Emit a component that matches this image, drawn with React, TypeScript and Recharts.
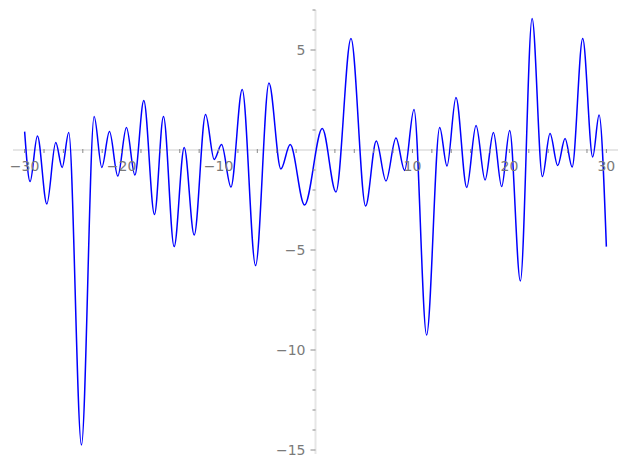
import React from "react";
import { LineChart, Line, XAxis, YAxis, ReferenceLine, ReferenceDot } from "recharts";

// local extrema of the curve
const xValues = [
  -30, -29.44, -28.68, -27.71, -26.79, -26.13, -25.45, -24.14, -22.83, -22.04,
  -21.25, -20.39, -19.5, -18.63, -17.71, -16.61, -15.68, -14.58, -13.54, -12.51,
  -11.34, -10.45, -9.69, -8.72, -7.56, -6.18, -4.8, -3.57, -2.61, -1.13,
  0.7, 2.11, 3.66, 5.17, 6.27, 7.27, 8.3, 9.19, 10.16, 11.46,
  12.81, 13.56, 14.49, 15.6, 16.56, 17.49, 18.35, 19.2, 20.03, 21.13,
  22.34, 23.4, 24.19, 24.98, 25.74, 26.47, 27.56, 28.59, 29.25, 30,
];
const yValues = [
  0.92, -1.58, 0.7, -2.7, 0.37, -0.87, 0.87, -14.75, 1.67, -0.87,
  0.92, -1.3, 1.12, -1.25, 2.47, -3.22, 1.67, -4.83, 0.13, -4.25,
  1.78, -0.47, 0.27, -1.85, 3.02, -5.78, 3.35, -0.95, 0.27, -2.75,
  1.07, -2.1, 5.57, -2.8, 0.45, -1.55, 0.6, -1.02, 2.03, -9.25,
  1.13, -0.8, 2.63, -1.87, 1.23, -1.5, 0.88, -1.83, 0.97, -6.55,
  6.58, -1.33, 0.82, -0.78, 0.57, -0.85, 5.58, -0.35, 1.75, -4.83,
];

const xMajor = [-30, -20, -10, 10, 20, 30];
const xMinor = [-28, -26, -24, -22, -18, -16, -14, -12, -8, -6, -4, -2, 2, 4, 6, 8, 12, 14, 16, 18, 22, 24, 26, 28];
const yMajor = [5, -5, -10, -15];
const yMinor = [7, 6, 4, 3, 2, 1, -1, -2, -3, -4, -6, -7, -8, -9, -11, -12, -13, -14];

const data = xValues.map((x, i) => ({ x, y: yValues[i] }));

const fmt = (v: number) => (v < 0 ? "\u2212" + Math.abs(v) : String(v));

const tickColor = "#8a8a8a";
const labelColor = "#7a7a7a";
const axisColor = "#e6e6e6";

const XTick = (label: string | null) => (props: any) => (
  <g>
    <line x1={props.cx} y1={props.cy - 1} x2={props.cx} y2={props.cy + 3} stroke={tickColor} strokeWidth={1} />
    {label && (
      <text x={props.cx} y={props.cy + 21} textAnchor='middle' fontSize={14} fill={labelColor} fontFamily='DejaVu Sans'>
        {label}
      </text>
    )}
  </g>
);

const YTick = (label: string | null, len: number) => (props: any) => (
  <g>
    <line x1={props.cx - len} y1={props.cy} x2={props.cx} y2={props.cy} stroke={tickColor} strokeWidth={1} />
    {label && (
      <text x={props.cx - 10} y={props.cy + 5} textAnchor='end' fontSize={14} fill={labelColor} fontFamily='DejaVu Sans'>
        {label}
      </text>
    )}
  </g>
);

const App: React.FC = () => {
  return (
    <div style={{ position: "absolute", left: 0, top: 0, width: 627, height: 469, background: "#fff" }}>
      <LineChart width={627} height={469} data={data} margin={{ top: 10, right: 9, bottom: 15, left: 13 }}>
        <XAxis type='number' dataKey='x' domain={[-31.2, 31.2]} hide />
        <YAxis type='number' domain={[-15.2, 7]} hide />
        <ReferenceLine y={0} stroke={axisColor} strokeWidth={2} />
        <ReferenceLine x={0} stroke={axisColor} strokeWidth={2} />
        {xMajor.map((t) => (
          <ReferenceDot key={"xM" + t} x={t} y={0} r={0} shape={XTick(fmt(t))} />
        ))}
        {xMinor.map((t) => (
          <ReferenceDot key={"xm" + t} x={t} y={0} r={0} shape={XTick(null)} />
        ))}
        {yMajor.map((t) => (
          <ReferenceDot key={"yM" + t} x={0} y={t} r={0} shape={YTick(fmt(t), 5)} />
        ))}
        {yMinor.map((t) => (
          <ReferenceDot key={"ym" + t} x={0} y={t} r={0} shape={YTick(null, 3)} />
        ))}
        <Line
          type='monotone'
          dataKey='y'
          stroke='#0000ff'
          strokeWidth={1.5}
          dot={false}
          isAnimationActive={false}
        />
      </LineChart>
    </div>
  );
};

export default App;
